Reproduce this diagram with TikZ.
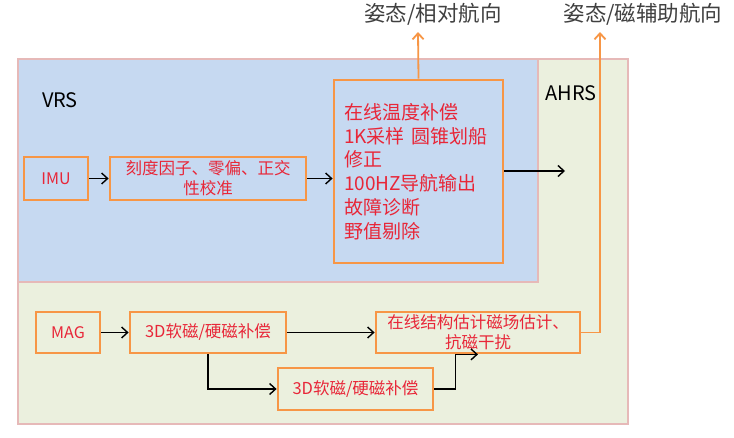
\documentclass[tikz,border=0pt]{standalone}
\usepackage{fontspec}
\setmainfont{Noto Sans CJK SC}
\usepackage{tikz}
\usetikzlibrary{arrows.meta, positioning}
\usepackage{xcolor}
\definecolor{vrsblue}{RGB}{198, 217, 241}
\definecolor{ahrsgreen}{RGB}{235, 240, 222}
\definecolor{framepink}{RGB}{230, 185, 184}
\definecolor{boxorange}{RGB}{247, 150, 70}
\definecolor{labelred}{RGB}{232, 38, 56}
\definecolor{titlegray}{RGB}{64, 64, 64}

\begin{document}
\begin{tikzpicture}[x=1pt, y=-1pt,
    stagebox/.style={draw=boxorange, line width=2.8pt, inner sep=0pt, align=center,
      text=labelred, font=\fontsize{16.5}{20}\selectfont},
    flow/.style={-{Straight Barb[length=6pt,width=11pt]}, line width=1.4pt, black},
    outflow/.style={-{Straight Barb[length=6pt,width=11pt]}, line width=1.8pt, boxorange},
    outlabel/.style={text=titlegray, font=\fontsize{21.5}{24}\selectfont, inner sep=0pt}]
        \useasboundingbox (0,0) rectangle (734,437);
        \fill[white] (0,0) rectangle (734,437);
        % system frames
        \draw[framepink, line width=2pt, fill=ahrsgreen] (18,59) rectangle (628,424);
        \draw[framepink, line width=2pt, fill=vrsblue] (18,59) rectangle (538,282);
        \node[font=\fontsize{20}{24}\selectfont] (vrs) at (60,100) {VRS};
        \node[font=\fontsize{20}{24}\selectfont] (ahrs) at (571,93) {AHRS};
        % gyro / accel chain
        \node[stagebox, minimum width=64, minimum height=43, font=\fontsize{16}{20}\selectfont] (imu) at (56,178.5) {IMU};
        \node[stagebox, minimum width=196, minimum height=43] (calib) at (208,178.5)
            {刻度因子、零偏、正交\\性校准};
        \node[stagebox, minimum height=183, text width=149, inner xsep=10pt, align=left,
            font=\fontsize{19}{23.8}\selectfont] (nav) at (418.5,171.5)
            {在线温度补偿\\1K采样 圆锥划船\\修正\\100HZ导航输出\\故障诊断\\野值剔除};
        \coordinate (vrsout) at (565,171);
        \draw[flow] (imu) -- (calib);
        \draw[flow] (calib) -- (calib -| nav.west);
        \draw[flow] (nav.east |- vrsout) -- (vrsout);
        % magnetometer chain
        \node[stagebox, minimum width=64, minimum height=41, font=\fontsize{16}{20}\selectfont] (mag) at (68,332.5) {MAG};
        \node[stagebox, minimum width=156, minimum height=41] (softhard) at (208,332.5) {3D软磁/硬磁补偿};
        \node[stagebox, minimum width=155, minimum height=42] (softhardb) at (355.5,389) {3D软磁/硬磁补偿};
        \node[stagebox, minimum width=204, minimum height=41] (magest) at (478,332.5)
            {在线结构估计磁场估计、\\抗磁干扰};
        \draw[flow] (mag) -- (softhard);
        \draw[flow] (softhard) -- (magest);
        \draw[flow] (softhard.south) |- (softhardb.west);
        \draw[flow] (softhardb.east) -- ++(21,0) |- (magest.south);
        % outputs
        \node[outlabel] (relout) at (433,14) {姿态/相对航向};
        \node[outlabel] (magout) at (643,14) {姿态/磁辅助航向};
        \coordinate (reltip) at (418,32);
        \coordinate (magtip) at (600,32);
        \draw[outflow] (nav.north) -- (reltip);
        \draw[outflow] (magest.east) -| (magtip);
      \end{tikzpicture}
\end{document}
